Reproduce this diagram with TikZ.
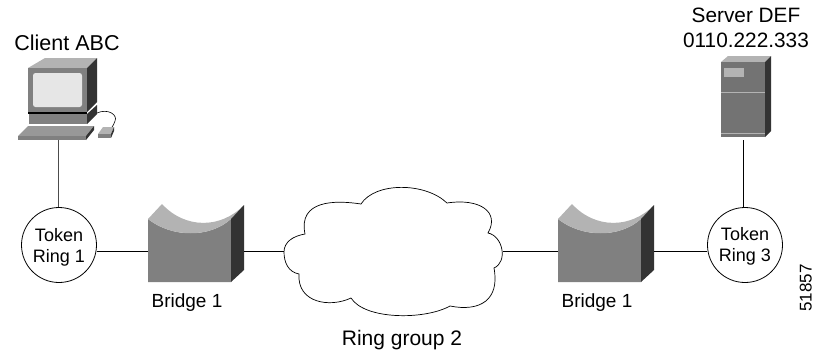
\documentclass[tikz,border=0pt]{standalone}
\usepackage{fontspec}
\setmainfont{Liberation Sans}
\definecolor{frontgray}{HTML}{808080}
\definecolor{topgray}{HTML}{B3B3B3}
\definecolor{darkgray2}{HTML}{333333}
\definecolor{screenlight}{HTML}{E6E6E6}
\tikzset{
  lbl/.style={inner sep=0pt,align=center,anchor=base},
  ring/.style={circle,draw=black,line width=0.8pt,minimum size=75pt,inner sep=0pt,align=center,font=\fontsize{18}{21}\selectfont},
  box/.style={rectangle,inner sep=0pt,anchor=north west},
  link/.style={draw=black,line width=0.8pt},
  front/.style={fill=frontgray},
  topf/.style={fill=topgray},
  darkf/.style={fill=darkgray2},
}
\newcommand{\bridgeicon}[1]{%
  \begin{scope}[xshift=#1pt]
    \fill[front] (148,219) .. controls (172,238) and (210,238) .. (231,219) -- (231,282) -- (148,282) -- cycle;
    \fill[topf] (148,219) -- (162,204) .. controls (185,229) and (221,229) .. (244,205) -- (231,219) .. controls (210,238) and (172,238) .. (148,219) -- cycle;
    \fill[darkf] (231,219) -- (244,205) -- (244,270) -- (231,282) -- cycle;
  \end{scope}}
\begin{document}
\begin{tikzpicture}[x=1pt,y=-1pt]
\useasboundingbox (0,0) rectangle (815,354);
% client icon
\fill[topf] (28,68) -- (45,58) -- (97,58) -- (87,68) -- cycle;
\fill[front] (28,68) rectangle (87,112);
\fill[darkf] (87,68) -- (97,58) -- (97,102) -- (87,112) -- cycle;
\fill[screenlight,rounded corners=2.5pt] (33,73) rectangle (82,107);
\fill[black] (28,112) rectangle (87,114);
\fill[front] (29,114) rectangle (87,124);
\fill[darkf] (87,114) -- (97,105) -- (97,114) -- (87,124) -- cycle;
\draw[black,line width=0.6pt] (97,113) .. controls (108,108) and (118,115) .. (115,121) .. controls (114,124) and (113,126) .. (112,127);
\fill[topgray!85!black] (28,126) -- (94,126) -- (86,136) -- (18,136) -- cycle;
\fill[front] (18,136) rectangle (86,140);
\fill[darkf] (86,136) -- (94,126) -- (94,130) -- (86,140) -- cycle;
\fill[topf] (103,127) -- (114,127) -- (111,134) -- (98,134) -- cycle;
\fill[front] (98,134) rectangle (111,138);
\fill[darkf] (111,134) -- (114,127) -- (114,131) -- (111,138) -- cycle;
% server icon
\fill[topf] (721,62) -- (728,56) -- (771,56) -- (765,62) -- cycle;
\fill[frontgray!90!black] (721,62) rectangle (765,137);
\fill[darkf] (765,62) -- (771,56) -- (771,131) -- (765,137) -- cycle;
\fill[topgray] (724,68) rectangle (744,77);
\draw[topgray,line width=0.7pt] (721,92) -- (765,92);
\draw[topgray,line width=0.7pt] (721,133) -- (765,133);
% bridges
\bridgeicon{0}
\bridgeicon{410}
% cloud
\path[draw=black,fill=white,line width=0.7pt] (284,252)
 .. controls (284,242) and (293,236) .. (305,234)
 .. controls (298,200) and (335,200) .. (361,204)
 .. controls (375,182) and (425,182) .. (447,203)
 .. controls (480,198) and (500,212) .. (488,233)
 .. controls (503,236) and (508,262) .. (494,268)
 .. controls (500,300) and (480,312) .. (450,306)
 .. controls (425,320) and (365,320) .. (351,298)
 .. controls (330,308) and (297,303) .. (299,274)
 .. controls (288,272) and (284,262) .. (284,252) -- cycle;
% anchors of icons
\node[box,minimum width=79pt,minimum height=82pt] (client) at (18,58) {};
\node[box,minimum width=50pt,minimum height=81pt] (server) at (721,56) {};
\node[box,minimum width=96pt,minimum height=79pt] (bridgeA) at (148,204) {};
\node[box,minimum width=96pt,minimum height=79pt] (bridgeB) at (558,204) {};
\node[box,minimum width=219pt,minimum height=127pt] (cloud) at (284,189) {};
\node[ring] (ringA) at (59,245) {Token\\Rin\smash{g} 1};
\node[ring] (ringC) at (745,245) {Token\\Rin\smash{g} 3};
% labels
\node[lbl,font=\fontsize{21.5}{25}\selectfont] (clientlbl) at (67,50) {Client ABC};
\node[lbl,font=\fontsize{20.8}{25}\selectfont] (serverlbl) at (746,47) {Server DEF\\0110.222.333};
\node[lbl,font=\fontsize{19}{22}\selectfont] (bridgeAlbl) at (187,307) {Bridge 1};
\node[lbl,font=\fontsize{19}{22}\selectfont] (bridgeBlbl) at (597,307) {Bridge 1};
\node[lbl,font=\fontsize{21}{25}\selectfont] (cloudlbl) at (402,345) {Ring group 2};
\node[lbl,rotate=90,font=\fontsize{17}{20}\selectfont] (fig) at (811.5,288) {51857};
% connectors
\coordinate (clientfoot) at (58,140);
\coordinate (serverfoot) at (743,140);
\draw[link,draw=black!70] (clientfoot) -- (clientfoot |- ringA.north);
\draw[link] (serverfoot) -- (serverfoot |- ringC.north);
\draw[link] (ringA.east |- 0,251.5) -- (bridgeA.west |- 0,251.5);
\draw[link] (bridgeA.east |- 0,251.5) -- (cloud.west |- 0,251.5);
\draw[link] (cloud.east |- 0,251.5) -- (bridgeB.west |- 0,251.5);
\draw[link] (bridgeB.east |- 0,251.5) -- (ringC.west |- 0,251.5);
\end{tikzpicture}
\end{document}
